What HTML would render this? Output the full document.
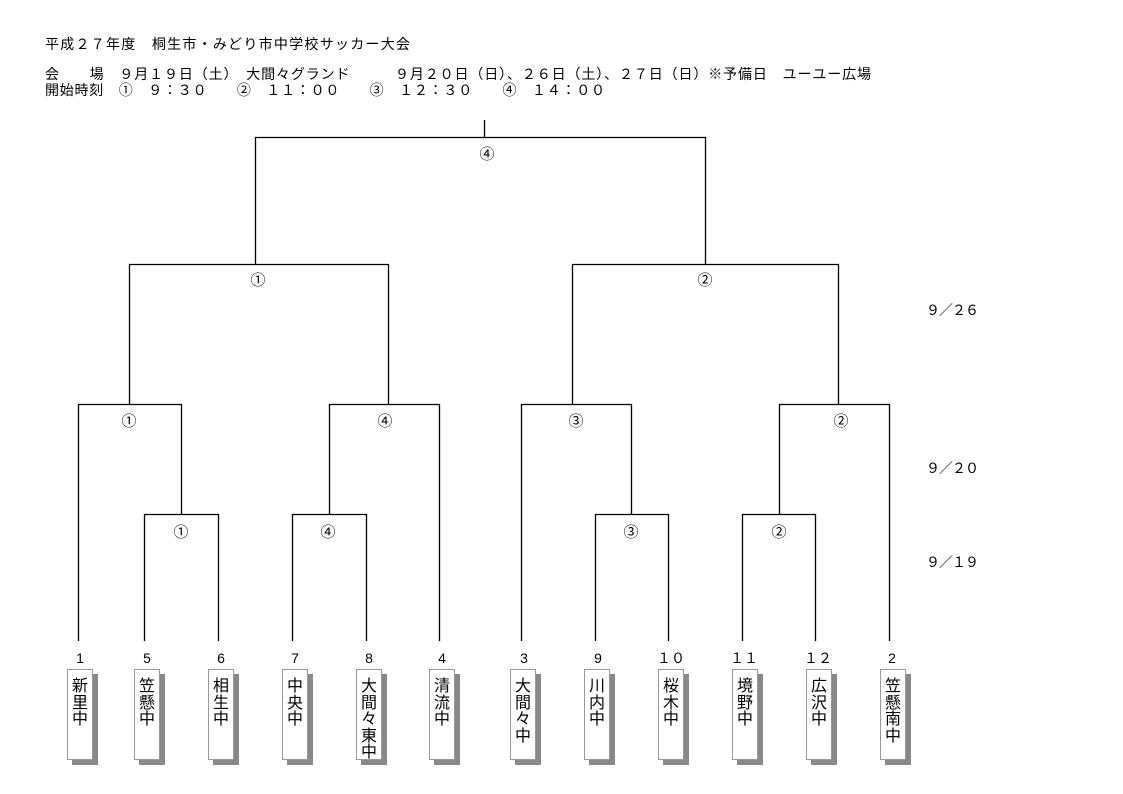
<!DOCTYPE html>
<html><head><meta charset="utf-8"><style>
html,body{margin:0;padding:0;background:#fff;}
svg{display:block;}
text{font-family:"Liberation Sans","Noto Sans CJK JP",sans-serif;fill:#000;}
</style></head><body>
<svg width="1123" height="794" viewBox="0 0 1123 794" xmlns="http://www.w3.org/2000/svg">
<g font-size="14">
<text x="45" y="49" textLength="365" lengthAdjust="spacing">平成２７年度　桐生市・みどり市中学校サッカー大会</text>
<text x="45" y="79" textLength="826" lengthAdjust="spacing">会　　場　９月１９日（土）　大間々グランド　　　９月２０日（日）、２６日（土）、２７日（日）※予備日　ユーユー広場</text>
<text x="45" y="95" textLength="560" lengthAdjust="spacing">開始時刻　①　９：３０　　②　１１：００　　③　１２：３０　　④　１４：００</text>
</g>
<g stroke="#000" stroke-width="1.3" fill="none">
<path d="M484.5 120V137.5M255.5 264V137.5H705.5V264"/>
<path d="M129.5 404V264.5H388.5V404"/>
<path d="M572.5 404V264.5H838.5V404"/>
<path d="M78.5 641V404.5H181.5V514"/>
<path d="M329.5 514V404.5H439.5V641"/>
<path d="M521.5 641V404.5H631.5V514"/>
<path d="M779.5 514V404.5H889.5V641"/>
<path d="M144.5 641V514.5H218.5V641"/>
<path d="M292.5 641V514.5H366.5V641"/>
<path d="M595.5 641V514.5H668.5V641"/>
<path d="M742.5 641V514.5H815.5V641"/>
</g>
<g font-size="15" text-anchor="middle">
<text x="487" y="159">④</text>
<text x="258" y="285">①</text>
<text x="705" y="285">②</text>
<text x="129" y="426">①</text>
<text x="385" y="426">④</text>
<text x="576" y="426">③</text>
<text x="841" y="426">②</text>
<text x="181" y="537">①</text>
<text x="328" y="537">④</text>
<text x="631" y="537">③</text>
<text x="779" y="537">②</text>
</g>
<g font-size="14">
<text x="926" y="315" textLength="53" lengthAdjust="spacing">９／２６</text>
<text x="926" y="473" textLength="53" lengthAdjust="spacing">９／２０</text>
<text x="926" y="567" textLength="53" lengthAdjust="spacing">９／１９</text>
</g>
<g font-size="14" text-anchor="middle">
<text x="80" y="663">1</text>
<text x="147" y="663">5</text>
<text x="221" y="663">6</text>
<text x="295" y="663">7</text>
<text x="369" y="663">8</text>
<text x="442" y="663">4</text>
<text x="524" y="663">3</text>
<text x="598" y="663">9</text>
<text x="671" y="663">１０</text>
<text x="744" y="663">１１</text>
<text x="818" y="663">１２</text>
<text x="892" y="663">2</text>
</g>
<g font-size="16" text-anchor="middle">
<rect x="72" y="674" width="26" height="91" fill="#888"/><rect x="67.5" y="669.5" width="25" height="90" fill="#fff" stroke="#999"/>
<text x="80" y="691">新</text><text x="80" y="708">里</text><text x="80" y="724">中</text>

<rect x="139" y="674" width="26" height="91" fill="#888"/><rect x="134.5" y="669.5" width="25" height="90" fill="#fff" stroke="#999"/>
<text x="147" y="691">笠</text><text x="147" y="708">懸</text><text x="147" y="724">中</text>

<rect x="213" y="674" width="26" height="91" fill="#888"/><rect x="208.5" y="669.5" width="25" height="90" fill="#fff" stroke="#999"/>
<text x="221" y="691">相</text><text x="221" y="708">生</text><text x="221" y="724">中</text>

<rect x="287" y="674" width="26" height="91" fill="#888"/><rect x="282.5" y="669.5" width="25" height="90" fill="#fff" stroke="#999"/>
<text x="295" y="691">中</text><text x="295" y="708">央</text><text x="295" y="724">中</text>

<rect x="361" y="674" width="26" height="91" fill="#888"/><rect x="356.5" y="669.5" width="25" height="90" fill="#fff" stroke="#999"/>
<text x="369" y="691">大</text><text x="369" y="708">間</text><text x="369" y="724">々</text><text x="369" y="741">東</text><text x="369" y="757">中</text>

<rect x="434" y="674" width="26" height="91" fill="#888"/><rect x="429.5" y="669.5" width="25" height="90" fill="#fff" stroke="#999"/>
<text x="442" y="691">清</text><text x="442" y="708">流</text><text x="442" y="724">中</text>

<rect x="515" y="674" width="26" height="91" fill="#888"/><rect x="510.5" y="669.5" width="25" height="90" fill="#fff" stroke="#999"/>
<text x="523" y="691">大</text><text x="523" y="708">間</text><text x="523" y="724">々</text><text x="523" y="741">中</text>

<rect x="589" y="674" width="26" height="91" fill="#888"/><rect x="584.5" y="669.5" width="25" height="90" fill="#fff" stroke="#999"/>
<text x="597" y="691">川</text><text x="597" y="708">内</text><text x="597" y="724">中</text>

<rect x="663" y="674" width="26" height="91" fill="#888"/><rect x="658.5" y="669.5" width="25" height="90" fill="#fff" stroke="#999"/>
<text x="671" y="691">桜</text><text x="671" y="708">木</text><text x="671" y="724">中</text>

<rect x="737" y="674" width="26" height="91" fill="#888"/><rect x="732.5" y="669.5" width="25" height="90" fill="#fff" stroke="#999"/>
<text x="745" y="691">境</text><text x="745" y="708">野</text><text x="745" y="724">中</text>

<rect x="811" y="674" width="26" height="91" fill="#888"/><rect x="806.5" y="669.5" width="25" height="90" fill="#fff" stroke="#999"/>
<text x="819" y="691">広</text><text x="819" y="708">沢</text><text x="819" y="724">中</text>

<rect x="885" y="674" width="26" height="91" fill="#888"/><rect x="880.5" y="669.5" width="25" height="90" fill="#fff" stroke="#999"/>
<text x="893" y="691">笠</text><text x="893" y="708">懸</text><text x="893" y="724">南</text><text x="893" y="741">中</text>
</g>
</svg>
</body></html>
